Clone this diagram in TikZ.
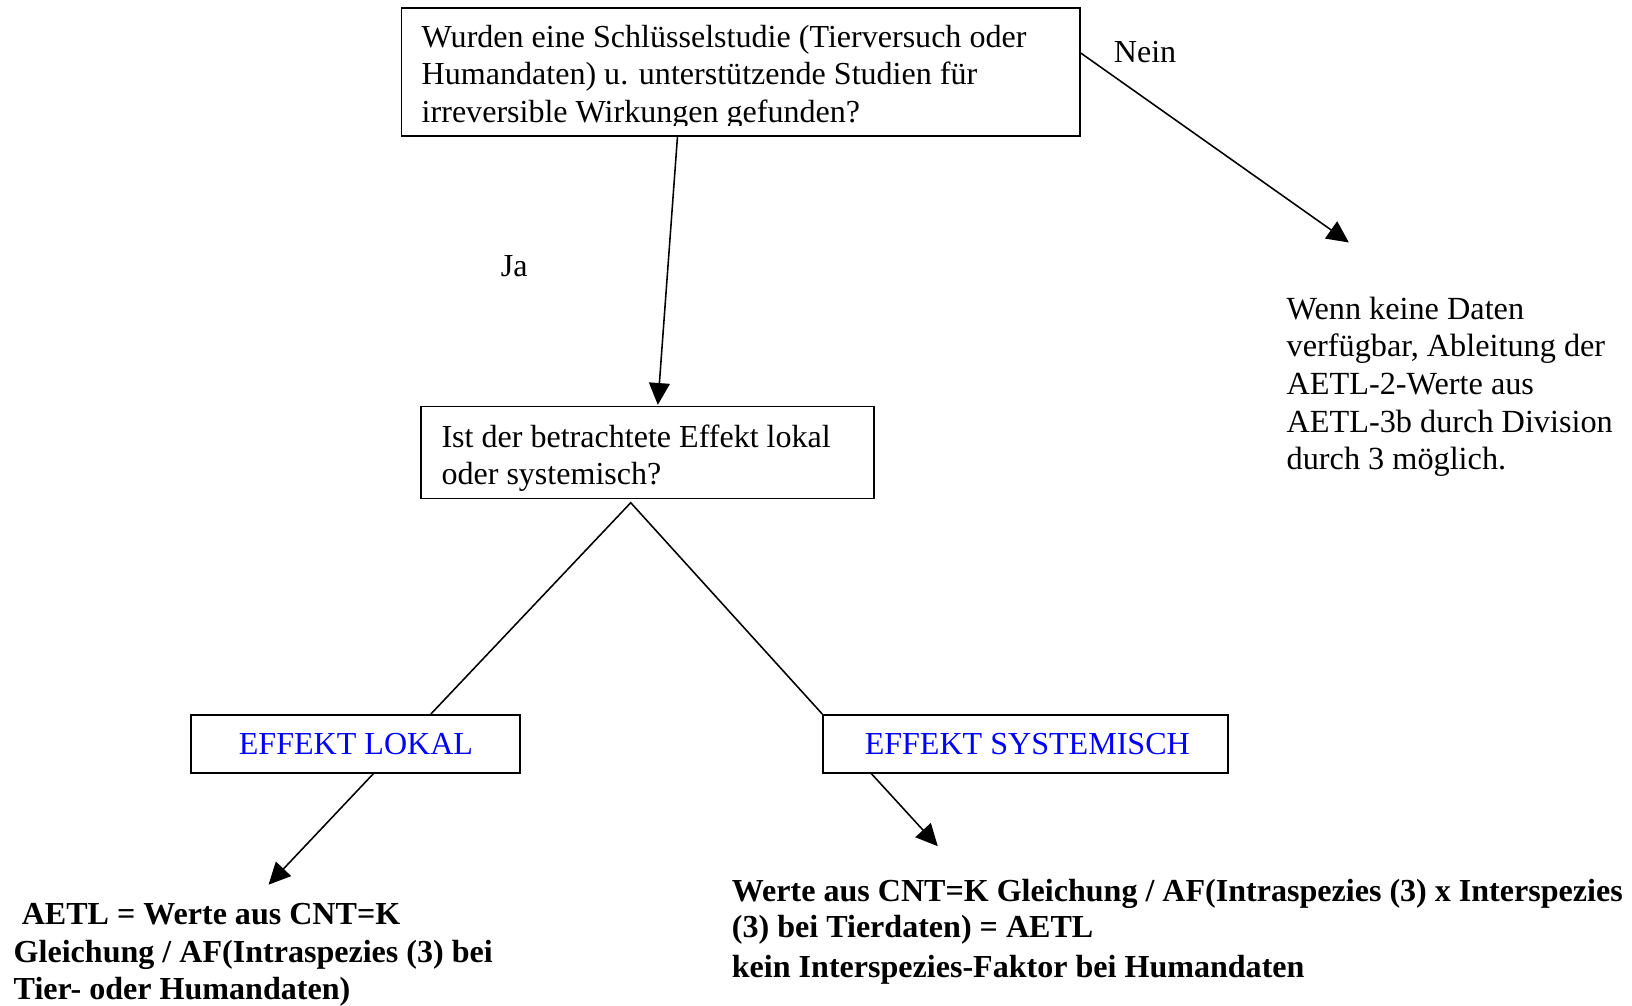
\documentclass[tikz,border=0pt]{standalone}
\usepackage{fontspec}
\setmainfont{Liberation Serif}
\usetikzlibrary{arrows.meta}
\begin{document}
\begin{tikzpicture}[x=1pt,y=-1pt,
  box/.style={draw, line width=1.5pt, anchor=north west, inner sep=0pt},
  txt/.style={anchor=north west, inner sep=0pt, align=left, font=\fontsize{30.8}{36}\selectfont},
  btxt/.style={anchor=north west, inner sep=0pt, align=left, font=\fontsize{30.8}{36}\selectfont\bfseries},
  blue txt/.style={anchor=base, inner sep=0pt, text=blue, font=\fontsize{30.8}{36}\selectfont},
  arr/.style={line width=1.5pt, -{Triangle[length=21pt,width=20pt]}},
  ln/.style={line width=1.5pt}]
\useasboundingbox (0,0) rectangle (1568,965.6);

% boxes
\node[box, minimum width=652pt, minimum height=123pt] (b1) at (385,7) {};
\node[box, minimum width=435pt, minimum height=88pt] (b2) at (404,390) {};
\node[box, minimum width=316pt, minimum height=56pt] (b3) at (183,686) {};
\node[box, minimum width=389pt, minimum height=56pt] (b4) at (790,686) {};

% box texts
\begin{scope}
  \clip (386,8) rectangle (1036,121);
  \node[txt] (t1) at (405,20) {\rule{0pt}{25pt}Wurden eine Schlüsselstudie (Tierversuch oder\\Humandaten) u. unterstützende Studien für\\[0.5pt]irreversible Wirkungen gefunden?};
\end{scope}
\begin{scope}
  \clip (405,391) rectangle (838,471);
  \node[txt, font=\fontsize{30.8}{35}\selectfont] (t2) at (424,405) {\rule{0pt}{25pt}Ist der betrachtete Effekt lokal\\oder systemisch?};
\end{scope}
\node[blue txt] (t3) at (342,725) {EFFEKT LOKAL};
\node[blue txt] (t4) at (987,725) {EFFEKT SYSTEMISCH};

% labels
\node[txt] (nein) at (1070,35) {\rule{0pt}{25pt}Nein};
\node[txt] (ja) at (481,240) {\rule{0pt}{25pt}Ja};

% outcome texts
\node[txt, font=\fontsize{31}{36.2}\selectfont] (t5) at (1236,281.5) {\rule{0pt}{25pt}Wenn keine Daten\\verfügbar, Ableitung der\\AETL-2-Werte aus\\AETL-3b durch Division\\durch 3 möglich.};
\node[btxt] (t6) at (13,863.5) {\rule{0pt}{25pt}\ AETL = Werte aus CNT=K\\Gleichung / AF(Intraspezies (3) bei\\Tier- oder Humandaten)};
\node[btxt, font=\fontsize{30.8}{34.5}\selectfont\bfseries] (t7) at (703,841) {\rule{0pt}{25pt}Werte aus CNT=K Gleichung / AF(Intraspezies (3) x Interspezies\\(3) bei Tierdaten) = AETL\\[4pt]kein Interspezies-Faktor bei Humandaten};

% connector points
\coordinate (a1s) at (651,130);
\coordinate (a1e) at (632,389);
\coordinate (a2s) at (1037,50);
\coordinate (a2e) at (1296,233);
\coordinate (apex) at (606,483);
\coordinate (l3e) at (414,686);
\coordinate (l4e) at (790,686);
\coordinate (a3s) at (360,742);
\coordinate (a3e) at (258,850);
\coordinate (a4s) at (836,742);
\coordinate (a4e) at (901,813);

\draw[arr] (a1s) -- (a1e);
\draw[arr] (a2s) -- (a2e);
\draw[ln] (l3e) -- (apex) -- (l4e);
\draw[arr] (a3s) -- (a3e);
\draw[arr] (a4s) -- (a4e);
\end{tikzpicture}
\end{document}
